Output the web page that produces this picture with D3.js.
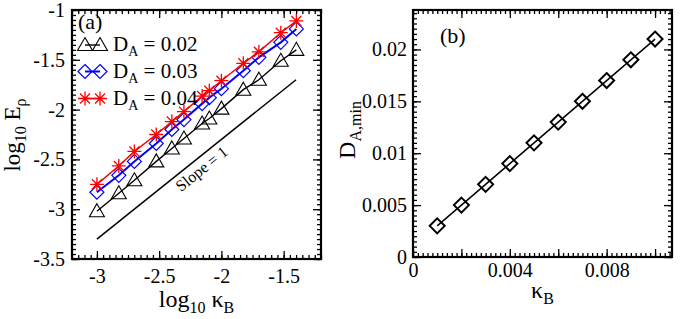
<!DOCTYPE html>
<html><head><meta charset="utf-8">
<script src="https://cdn.jsdelivr.net/npm/d3@7"></script>
<style>
body{margin:0;background:#fff}
svg{display:block}
svg text{font-family:'Liberation Serif','Tinos','Nimbus Roman','DejaVu Serif',serif !important;fill:#000}
</style>
</head><body>
<svg id="c" width="680" height="319"></svg>
<script>
// ---------- data: panel (a) ----------
const logKappa = [-3, -2.824, -2.699, -2.523, -2.398, -2.301, -2.155, -2.097, -2, -1.824, -1.699, -1.523, -1.398];
const logE_DA002 = [-3.02, -2.84, -2.71, -2.52, -2.39, -2.29, -2.14, -2.09, -1.99, -1.80, -1.70, -1.51, -1.40];
const logE_DA003 = [-2.83, -2.66, -2.52, -2.34, -2.20, -2.10, -1.94, -1.88, -1.79, -1.61, -1.475, -1.325, -1.19];
const logE_DA004 = [-2.75, -2.566, -2.42, -2.25, -2.12, -2.02, -1.864, -1.81, -1.71, -1.535, -1.42, -1.228, -1.11];
const slopeX = [-3, -1.4];
const slopeY = [-3.3, -1.7];
const legendLabels = ["0.02", "0.03", "0.04"];
const aXTicks = [-3, -2.5, -2, -1.5];
const aXTickLabels = ["-3", "-2.5", "-2", "-1.5"];
const aYTicks = [-1, -1.5, -2, -2.5, -3, -3.5];
const aYTickLabels = ["-1", "-1.5", "-2", "-2.5", "-3", "-3.5"];

// ---------- data: panel (b) ----------
const kappaB = [0.001, 0.002, 0.003, 0.004, 0.005, 0.006, 0.007, 0.008, 0.009, 0.010];
const DAmin = [0.003, 0.005, 0.007, 0.009, 0.011, 0.013, 0.015, 0.017, 0.019, 0.021];
const bXTicks = [0, 0.002, 0.004, 0.006, 0.008, 0.010];
const bXTickLabels = ["0", "", "0.004", "", "0.008", ""];
const bYTicks = [0, 0.005, 0.01, 0.015, 0.02];
const bYTickLabels = ["0", "0.005", "0.01", "0.015", "0.02"];

const FONT = "'Liberation Serif','Tinos','Nimbus Roman','DejaVu Serif',serif";
const svg = d3.select("#c");

function frame(g, x, y, o) {
  const [x0, x1] = x.range(), [y0, y1] = y.range();
  const h = y0 - y1, w = x1 - x0;
  g.append("g").attr("transform", `translate(0,${y0})`)
    .call(d3.axisBottom(x).tickValues(o.xMinor).tickSize(-4).tickFormat(""));
  g.append("g").attr("transform", `translate(0,${y1})`)
    .call(d3.axisTop(x).tickValues(o.xMinor).tickSize(-4).tickFormat(""));
  g.append("g").attr("transform", `translate(${x0},0)`)
    .call(d3.axisLeft(y).tickValues(o.yMinor).tickSize(-4).tickFormat(""));
  g.append("g").attr("transform", `translate(${x1},0)`)
    .call(d3.axisRight(y).tickValues(o.yMinor).tickSize(-4).tickFormat(""));
  g.append("g").attr("transform", `translate(0,${y0})`)
    .call(d3.axisBottom(x).tickValues(o.xMajor).tickSize(-8).tickPadding(o.xPad)
      .tickFormat((d, i) => o.xLabels[i]));
  g.append("g").attr("transform", `translate(0,${y1})`)
    .call(d3.axisTop(x).tickValues(o.xMajor).tickSize(-8).tickFormat(""));
  g.append("g").attr("transform", `translate(${x0},0)`)
    .call(d3.axisLeft(y).tickValues(o.yMajor).tickSize(-8).tickPadding(o.yPad)
      .tickFormat((d, i) => o.yLabels[i]));
  g.append("g").attr("transform", `translate(${x1},0)`)
    .call(d3.axisRight(y).tickValues(o.yMajor).tickSize(-8).tickFormat(""));
  g.selectAll(".domain").remove();
  g.selectAll("g").attr("font-family", FONT);
  g.selectAll(".tick line").attr("stroke", "#000").attr("stroke-width", 1.3);
  g.selectAll(".tick text").attr("font-size", 20).attr("fill", "#000");
  g.append("rect").attr("x", x0).attr("y", y1).attr("width", w).attr("height", h)
    .attr("fill", "none").attr("stroke", "#000").attr("stroke-width", 2.2);
}

// ---------- panel (a) ----------
const xa = d3.scaleLinear().domain([-3.2, -1.2]).range([72, 321]);
const ya = d3.scaleLinear().domain([-3.5, -1]).range([259, 10]);
const ga = svg.append("g").attr("font-family", FONT);
frame(ga, xa, ya, {
  xMajor: aXTicks, xLabels: aXTickLabels, xMinor: d3.range(-3.2, -1.2 + 1e-9, 0.05),
  yMajor: aYTicks, yLabels: aYTickLabels, yMinor: d3.range(-3.5, -1 + 1e-9, 0.05),
  xPad: 10, yPad: 7
});

const lineA = d3.line().x(d => xa(d[0])).y(d => ya(d[1]));
ga.append("path").attr("d", lineA(d3.zip(slopeX, slopeY))).attr("fill", "none")
  .attr("stroke", "#000").attr("stroke-width", 1.5);
const ang = Math.atan2(ya(slopeY[0]) - ya(slopeY[1]), xa(slopeX[1]) - xa(slopeX[0])) * 180 / Math.PI;
ga.append("text").attr("transform", `translate(205,173) rotate(${-ang})`)
  .attr("text-anchor", "middle").attr("font-size", 16).text("Slope = 1");

const triPath = "M0,-7.5L7.5,5.5L-7.5,5.5Z";
const diaPath = "M0,-7L7,0L0,7L-7,0Z";
const starPath = "M-7,0H7M0,-7V7M-5,-5L5,5M-5,5L5,-5";

const seriesA = [
  {vals: logE_DA002, color: "#000", width: 1.4, marker: triPath, mw: 1.1},
  {vals: logE_DA003, color: "#0000ff", width: 2, marker: diaPath, mw: 1.2},
  {vals: logE_DA004, color: "#ff0000", width: 1.5, marker: starPath, mw: 1.3}
];
seriesA.forEach(s => {
  const pts = d3.zip(logKappa, s.vals);
  ga.append("path").attr("d", lineA(pts)).attr("fill", "none")
    .attr("stroke", s.color).attr("stroke-width", s.width);
  ga.selectAll(null).data(pts).join("path")
    .attr("transform", d => `translate(${xa(d[0])},${ya(d[1])})`)
    .attr("d", s.marker).attr("fill", "none").attr("stroke", s.color).attr("stroke-width", s.mw);
});

const legY = [45, 71.5, 98.5];
seriesA.forEach((s, i) => {
  const y = legY[i];
  ga.append("line").attr("x1", 85).attr("x2", 100).attr("y1", y).attr("y2", y)
    .attr("stroke", s.color).attr("stroke-width", s.width);
  [85, 100].forEach(x => ga.append("path").attr("transform", `translate(${x},${y})`)
    .attr("d", s.marker).attr("fill", "none").attr("stroke", s.color).attr("stroke-width", s.mw));
  const t = ga.append("text").attr("x", 113).attr("y", y + 6).attr("font-size", 21);
  t.append("tspan").text("D");
  t.append("tspan").attr("font-size", 14).attr("dy", 5).text("A");
  t.append("tspan").attr("dy", -5).text(" = " + legendLabels[i]);
});
ga.append("text").attr("x", 78).attr("y", 29).attr("font-size", 22).text("(a)");

const xta = ga.append("text").attr("x", 196.5).attr("y", 307).attr("text-anchor", "middle").attr("font-size", 24);
xta.append("tspan").text("log");
xta.append("tspan").attr("font-size", 16).attr("dy", 6).text("10");
xta.append("tspan").attr("dy", -6).text(" κ");
xta.append("tspan").attr("font-size", 16).attr("dy", 6).text("B");
const yta = ga.append("text").attr("transform", "translate(20,135) rotate(-90)").attr("text-anchor", "middle").attr("font-size", 23);
yta.append("tspan").text("log");
yta.append("tspan").attr("font-size", 16).attr("dy", 6).text("10");
yta.append("tspan").attr("dy", -6).text(" E");
yta.append("tspan").attr("font-size", 16).attr("dy", 6).text("ρ");

// ---------- panel (b) ----------
const xb = d3.scaleLinear().domain([0, 0.0107]).range([413, 672]);
const yb = d3.scaleLinear().domain([0, 0.0238]).range([257, 10]);
const gb = svg.append("g").attr("font-family", FONT);
frame(gb, xb, yb, {
  xMajor: bXTicks, xLabels: bXTickLabels, xMinor: d3.range(0, 0.0107, 0.0002),
  yMajor: bYTicks, yLabels: bYTickLabels, yMinor: d3.range(0, 0.0238, 0.0005),
  xPad: 6, yPad: 6
});
const lineB = d3.line().x(d => xb(d[0])).y(d => yb(d[1]));
const ptsB = d3.zip(kappaB, DAmin);
gb.append("path").attr("d", lineB(ptsB)).attr("fill", "none").attr("stroke", "#000").attr("stroke-width", 1.5);
gb.selectAll(null).data(ptsB).join("path")
  .attr("transform", d => `translate(${xb(d[0])},${yb(d[1])})`)
  .attr("d", "M0,-7.5L7.5,0L0,7.5L-7.5,0Z").attr("fill", "none").attr("stroke", "#000").attr("stroke-width", 2);
gb.append("text").attr("x", 440).attr("y", 43).attr("font-size", 22).text("(b)");

const xtb = gb.append("text").attr("x", 542.5).attr("y", 298).attr("text-anchor", "middle").attr("font-size", 24);
xtb.append("tspan").text("κ");
xtb.append("tspan").attr("font-size", 16).attr("dy", 6).text("B");
const ytb = gb.append("text").attr("transform", "translate(355,130) rotate(-90)").attr("text-anchor", "middle").attr("font-size", 24);
ytb.append("tspan").text("D");
ytb.append("tspan").attr("font-size", 16).attr("dy", 6).text("A,min");
</script>
</body></html>
